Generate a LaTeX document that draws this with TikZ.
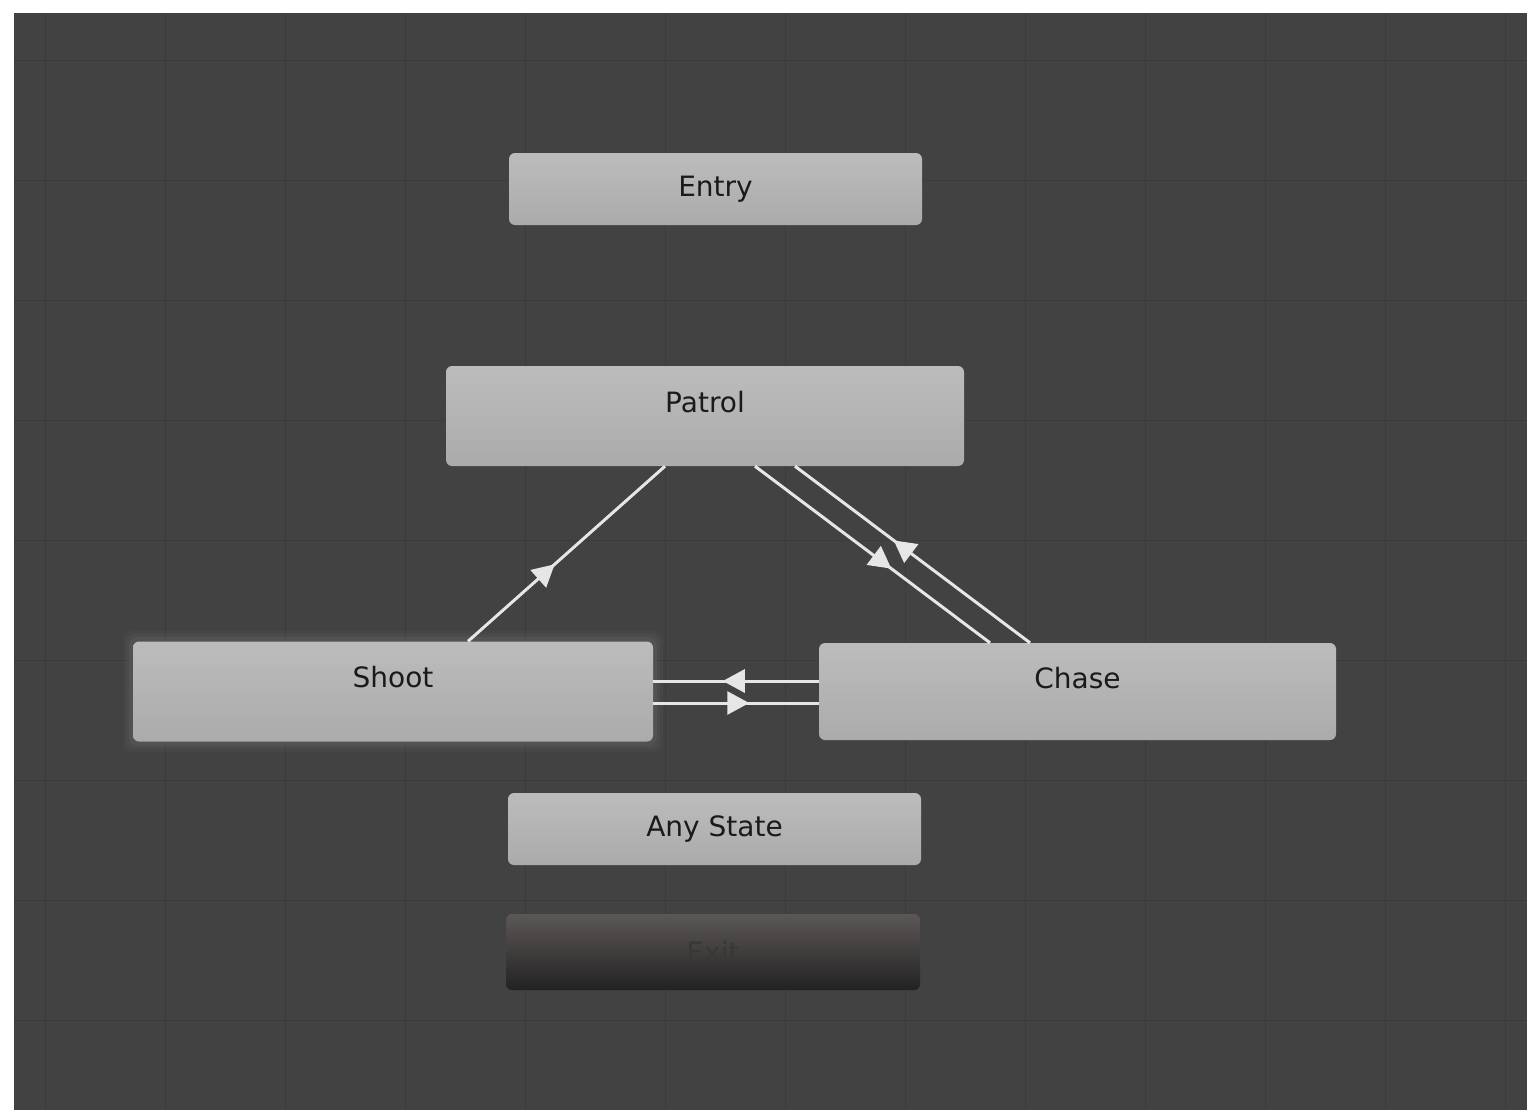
\documentclass[tikz,border=0pt]{standalone}
\usepackage{fontspec}
\setmainfont{DejaVu Sans}
\usetikzlibrary{arrows.meta,decorations.markings}

\definecolor{canvasbg}{HTML}{424242}
\definecolor{gridline}{HTML}{3B3B3B}
\definecolor{statetop}{HTML}{BCBCBC}
\definecolor{statebot}{HTML}{ABABAB}
\definecolor{statetext}{HTML}{1A1A1A}
\definecolor{wire}{HTML}{E6E6E6}
\definecolor{exittop}{HTML}{5C5757}
\definecolor{exitbot}{HTML}{232222}
\definecolor{exittext}{HTML}{3A3737}
\definecolor{halo}{HTML}{6A6A6A}

\tikzset{
  state/.style={rectangle, rounded corners=6pt, draw=none,
    top color=statetop, bottom color=statebot,
    text=statetext, font=\fontsize{28}{30}\selectfont, inner sep=0pt},
  bigstate/.style={state, minimum height=100pt},
  smallstate/.style={state, minimum height=72pt},
  exitstate/.style={rectangle, rounded corners=6pt, draw=none,
    top color=exittop, bottom color=exitbot,
    text=exittext, font=\fontsize{28}{30}\selectfont,
    minimum height=76pt, minimum width=414pt, inner sep=0pt},
  caption/.style={text=statetext, font=\fontsize{28}{30}\selectfont},
  transition/.style={draw=wire, line width=3pt,
    postaction={decorate},
    decoration={markings,
      mark=at position #1 with {\arrow[wire]{Triangle[length=22pt,width=23pt]}}}},
  transition/.default=0.57
}

\begin{document}
\begin{tikzpicture}[x=1pt,y=-1pt]
  % page and editor canvas
  \useasboundingbox (0,0) rectangle (1527,1114);
  \fill[white] (0,0) rectangle (1527,1114);
  \fill[canvasbg] (14,13) rectangle (1527,1110);
  \begin{scope}
    \clip (14,13) rectangle (1527,1110);
    \foreach \gx in {45,165,285,405,525,665,785,905,1025,1145,1265,1385,1505}
      \draw[gridline, line width=1pt] (\gx,13) -- (\gx,1110);
    \foreach \gy in {60,180,300,420,540,660,780,900,1020}
      \draw[gridline, line width=1pt] (14,\gy) -- (1527,\gy);
  \end{scope}

  % soft halo around the selected state
  \foreach \g/\o in {10/0.10,7/0.15,4/0.25}
    \fill[halo, opacity=\o, rounded corners=9pt]
      (133-\g,641-\g) rectangle (653+\g,742+\g);

  % state nodes
  \node[smallstate, minimum width=413pt] (entry) at (715.5,189) {Entry};
  \node[bigstate, minimum width=518pt,
        label={[yshift=14pt, caption]center:Patrol}] (patrol) at (705,416) {};
  \node[bigstate, minimum width=520pt,
        label={[yshift=14pt, caption]center:Shoot}] (shoot) at (393,691.5) {};
  \node[state, minimum height=97pt, minimum width=517pt,
        label={[yshift=13pt, caption]center:Chase}] (chase) at (1077.5,691.5) {};
  \node[smallstate, minimum width=413pt] (any) at (714.5,829) {Any State};
  \node[exitstate] (exit) at (713,952) {Exit};

  % transitions
  \draw[transition=0.44] ([xshift=75pt]shoot.north) -- ([xshift=-40pt]patrol.south);
  \draw[transition=0.58] ([xshift=50pt]patrol.south) -- ([xshift=-87.5pt]chase.north);
  \draw[transition=0.58] ([xshift=-47.5pt]chase.north) -- ([xshift=90pt]patrol.south);
  \draw[transition=0.58] ([yshift=10.5pt]chase.west) -- ([yshift=10.5pt]shoot.east);
  \draw[transition=0.58] ([yshift=-11.5pt]shoot.east) -- ([yshift=-11.5pt]chase.west);
\end{tikzpicture}
\end{document}
